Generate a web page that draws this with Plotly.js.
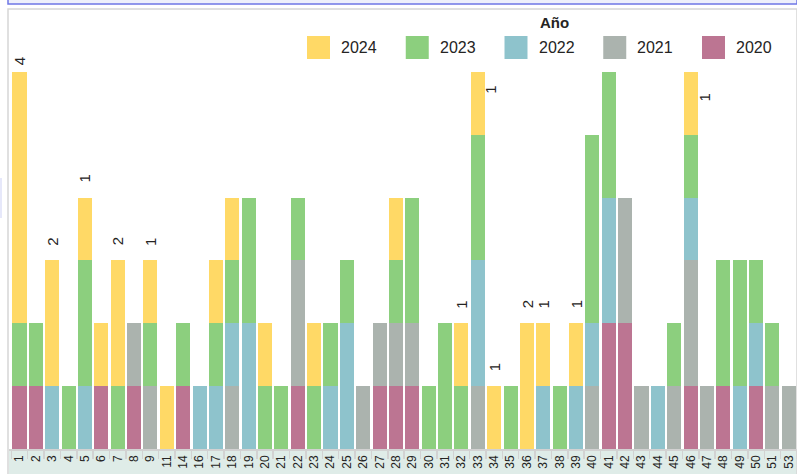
<!DOCTYPE html>
<html>
<head>
<meta charset="utf-8">
<script src="https://cdn.plot.ly/plotly-3.0.1.min.js"></script>
<style>
  html, body { margin: 0; padding: 0; background: #ffffff; }
  #chart { width: 797px; height: 474px; }
</style>
</head>
<body>
<div id="chart"></div>
<script>
// ---- data ----
var categories = ['1','2','3','4','5','6','7','8','9','11','14','16','17','18','19','20','21','22','23','24','25','26','27','28','29','30','31','32','33','34','35','36','37','38','39','40','41','42','43','44','45','46','47','48','49','50','51','53'];
var years = ['2024','2023','2022','2021','2020'];
var v2020 = [1,1,0,0,0,1,0,1,0,0,1,0,0,0,0,0,0,1,0,0,0,0,1,1,1,0,0,0,0,0,0,0,0,0,0,0,2,2,0,0,0,1,0,1,0,1,0,0];
var v2021 = [0,0,0,0,0,0,0,1,1,0,0,0,0,1,0,0,0,2,0,0,0,1,1,1,1,0,0,0,1,0,0,0,0,0,0,1,0,2,1,0,1,2,1,0,0,0,1,1];
var v2022 = [0,0,1,0,1,0,0,0,0,0,0,1,1,1,2,0,0,0,0,1,2,0,0,0,0,0,0,0,2,0,0,0,1,0,1,1,2,0,0,1,0,1,0,0,1,1,0,0];
var v2023 = [1,1,0,1,2,0,1,0,1,0,1,0,1,1,2,1,1,1,1,1,1,0,0,1,2,1,2,1,2,0,1,0,0,1,0,3,2,0,0,0,1,1,0,2,2,1,1,0];
var v2024 = [4,0,2,0,1,1,2,0,1,1,0,0,1,1,0,1,0,0,1,0,0,0,0,1,0,0,0,1,1,1,0,2,1,0,1,0,0,0,0,0,0,1,0,0,0,0,0,0];
var labels2024 = ['4','','2','','1','','2','','1','','','','','','','','','','','','','','','','','','','1','1','1','','2','1','','1','','','','','','','1','','','','','',''];
var legendTitle = 'Año';

// ---- styling ----
var colors = {'2024':'#FFD966','2023':'#8CCF7E','2022':'#8EC3CC','2021':'#ABB3AE','2020':'#BC7592'};
var valuesByYear = {'2020':v2020,'2021':v2021,'2022':v2022,'2023':v2023,'2024':v2024};
var FONT = 'Liberation Sans, Arial, sans-serif';

var W = 797, H = 474, ML = 9, MR = 0, MT = 9, MB = 25;
var plotW = W - ML - MR, plotH = H - MT - MB;
function px2x(px){ return (px - ML) / plotW; }
function py2y(py){ return (H - MB - py) / plotH; }

// stack order bottom->top: 2020, 2021, 2022, 2023, 2024
var traces = ['2020','2021','2022','2023','2024'].map(function(y){
  return {
    type: 'bar', name: y, x: categories, y: valuesByYear[y],
    marker: {color: colors[y], line: {width: 0}},
    hoverinfo: 'skip', showlegend: false
  };
});

var totals = categories.map(function(c, i){
  return v2020[i] + v2021[i] + v2022[i] + v2023[i] + v2024[i];
});

var special = {'1': {xshift: 0, yshift: 10}, '33': {xshift: 13, yshift: -18}, '46': {xshift: 14, yshift: -26}};
var annotations = [];
categories.forEach(function(c, i){
  if (!labels2024[i]) return;
  var sp = special[c] || {xshift: 0, yshift: 19};
  annotations.push({
    x: i, y: totals[i], xref: 'x', yref: 'y', text: labels2024[i],
    showarrow: false, textangle: -90, xanchor: 'center', yanchor: 'middle',
    xshift: sp.xshift, yshift: sp.yshift,
    font: {family: FONT, size: 15, color: '#252423'}
  });
});

// custom legend
var shapes = [];
annotations.push({
  x: px2x(554), y: py2y(22), xref: 'paper', yref: 'paper', text: '<b>' + legendTitle + '</b>',
  showarrow: false, xanchor: 'center', yanchor: 'middle',
  font: {family: FONT, size: 15, color: '#252423'}
});
years.forEach(function(y, k){
  var sx = 307 + k * 98.75;
  shapes.push({
    type: 'rect', xref: 'paper', yref: 'paper',
    x0: px2x(sx), x1: px2x(sx + 23), y0: py2y(59), y1: py2y(36),
    fillcolor: colors[y], line: {width: 0}
  });
  annotations.push({
    x: px2x(sx + 32), y: py2y(47.5), xref: 'paper', yref: 'paper', text: y,
    showarrow: false, xanchor: 'left', yanchor: 'middle',
    font: {family: FONT, size: 16, color: '#252423'}
  });
});

// tick label band
shapes.push({
  type: 'rect', xref: 'paper', yref: 'paper', layer: 'below',
  x0: 0, x1: 1, y0: py2y(474), y1: 0,
  fillcolor: '#DFECE8', line: {width: 0}
});
// outer frame
shapes.push({
  type: 'rect', xref: 'paper', yref: 'paper', layer: 'above',
  x0: px2x(8), x1: px2x(797), y0: py2y(476), y1: py2y(9),
  fillcolor: 'rgba(0,0,0,0)', line: {color: '#D6D6D6', width: 1.5}
});
// selection bar at top (from surrounding page)
shapes.push({
  type: 'rect', xref: 'paper', yref: 'paper',
  x0: px2x(8), x1: px2x(797), y0: py2y(4), y1: py2y(-2),
  fillcolor: '#EEF0FB', line: {color: '#6F77E6', width: 1.5}
});
shapes.push({
  type: 'rect', xref: 'paper', yref: 'paper',
  x0: px2x(-2), x1: px2x(2), y0: py2y(218), y1: py2y(178),
  fillcolor: '#E6E8FA', line: {width: 0}
});

var layout = {
  width: W, height: H,
  margin: {l: ML, r: MR, t: MT, b: MB, pad: 0},
  paper_bgcolor: '#FFFFFF', plot_bgcolor: '#FFFFFF',
  barmode: 'stack', bargap: 0.14,
  showlegend: false, hovermode: false,
  font: {family: FONT, color: '#252423'},
  xaxis: {
    type: 'category', categoryorder: 'array', categoryarray: categories,
    tickangle: -90, tickfont: {family: FONT, size: 12, color: '#252423'},
    ticks: 'outside', tickson: 'boundaries', ticklen: 8, tickwidth: 1.5, tickcolor: '#D2D2D2',
    showline: true, linecolor: '#D2D2D2', linewidth: 1.5,
    showgrid: false, zeroline: false, automargin: false, fixedrange: true
  },
  yaxis: {
    range: [0, 7], visible: false, showgrid: false, zeroline: false, fixedrange: true
  },
  annotations: annotations,
  shapes: shapes
};

Plotly.newPlot('chart', traces, layout, {displayModeBar: false, staticPlot: true});
</script>
</body>
</html>
